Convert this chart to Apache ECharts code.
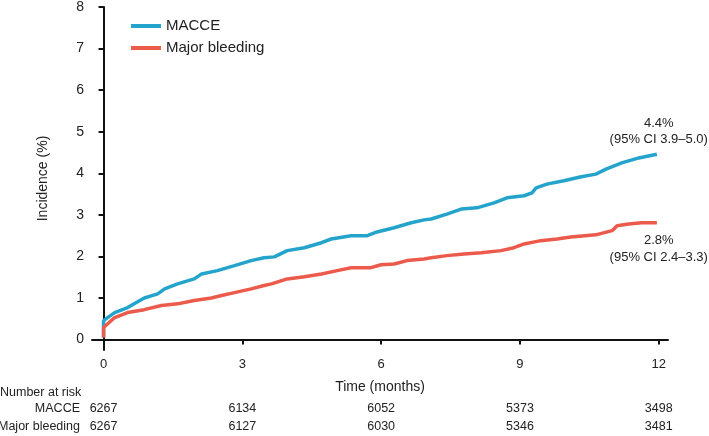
<!DOCTYPE html>
<html>
<head>
<meta charset="utf-8">
<script src="https://cdn.jsdelivr.net/npm/echarts@6/dist/echarts.min.js"></script>
<style>
  html, body {margin: 0; padding: 0; background: #fff;}
  #main {width: 709px; height: 436px;}
</style>
</head>
<body>
<div id="main"></div>
<script>
// cumulative incidence (months, %)
var macceMonths = [0, 0, 0.05, 0.24, 0.52, 0.88, 1.17, 1.32, 1.6, 1.96, 2.12, 2.46, 2.83, 3.19, 3.47, 3.69, 3.97, 4.34, 4.71, 4.92, 5.35, 5.7, 5.91, 6.28, 6.65, 6.93, 7.08, 7.42, 7.73, 8.07, 8.44, 8.72, 9.09, 9.26, 9.35, 9.58, 9.95, 10.3, 10.64, 10.86, 11.2, 11.57, 11.96];
var macceValues = [0.05, 0.45, 0.5, 0.65, 0.77, 1.0, 1.1, 1.22, 1.34, 1.46, 1.58, 1.66, 1.78, 1.9, 1.97, 1.99, 2.14, 2.21, 2.33, 2.42, 2.5, 2.5, 2.59, 2.69, 2.81, 2.88, 2.9, 3.02, 3.14, 3.17, 3.29, 3.41, 3.46, 3.53, 3.65, 3.74, 3.82, 3.91, 3.98, 4.1, 4.25, 4.37, 4.46];
var bleedMonths = [0, 0, 0.24, 0.52, 0.88, 1.25, 1.6, 1.96, 2.33, 2.55, 2.83, 3.19, 3.47, 3.63, 3.97, 4.34, 4.71, 5.05, 5.35, 5.78, 6.0, 6.28, 6.56, 6.93, 7.08, 7.42, 7.79, 8.16, 8.59, 8.87, 9.09, 9.45, 9.8, 10.1, 10.64, 10.99, 11.1, 11.35, 11.63, 11.96];
var bleedValues = [0.05, 0.29, 0.53, 0.65, 0.72, 0.82, 0.86, 0.94, 1.0, 1.06, 1.13, 1.22, 1.3, 1.34, 1.46, 1.51, 1.58, 1.66, 1.73, 1.73, 1.8, 1.82, 1.9, 1.94, 1.97, 2.02, 2.06, 2.09, 2.14, 2.21, 2.3, 2.38, 2.42, 2.47, 2.52, 2.62, 2.74, 2.78, 2.81, 2.81];

var xTicks = [0, 3, 6, 9, 12];
var yTicks = [0, 1, 2, 3, 4, 5, 6, 7, 8];
var riskMacce = [6267, 6134, 6052, 5373, 3498];
var riskBleed = [6267, 6127, 6030, 5346, 3481];
var endMacce = ['4.4%', '(95% CI 3.9\u20135.0)'];
var endBleed = ['2.8%', '(95% CI 2.4\u20133.3)'];

var blue = '#24a4cb';
var red = '#eb5a4b';
var font = 'Liberation Sans, Arial, sans-serif';

function zip(xs, ys) {
  return xs.map(function (x, i) { return [x, ys[i]]; });
}

var chart = echarts.init(document.getElementById('main'));
chart.setOption({
  animation: false,
  textStyle: {fontFamily: font, color: '#222'},
  grid: {left: 92, right: 41, top: 6, bottom: 86},
  legend: {
    orient: 'vertical',
    left: 126,
    top: 12,
    icon: 'rect',
    itemWidth: 30,
    itemHeight: 4,
    itemGap: 4,
    textStyle: {fontSize: 15, lineHeight: 18, color: '#222', fontFamily: font},
    data: ['MACCE', 'Major bleeding']
  },
  xAxis: {
    type: 'value',
    min: -0.25,
    max: 12.2,
    name: 'Time (months)',
    nameLocation: 'middle',
    nameGap: 30,
    nameTextStyle: {fontSize: 14, color: '#222'},
    axisLine: {lineStyle: {color: '#111', width: 2}},
    axisTick: {customValues: xTicks, length: 5, lineStyle: {color: '#111', width: 2}},
    axisLabel: {customValues: xTicks, fontSize: 13, color: '#222', margin: 8},
    splitLine: {show: false}
  },
  yAxis: {
    type: 'value',
    min: -0.25,
    max: 8,
    name: 'Incidence (%)',
    nameLocation: 'middle',
    nameGap: 42,
    nameTextStyle: {fontSize: 14, color: '#222'},
    axisLine: {show: true, lineStyle: {color: '#111', width: 2}},
    axisTick: {show: true, customValues: yTicks, length: 5, lineStyle: {color: '#111', width: 2}},
    axisLabel: {customValues: yTicks, fontSize: 14, color: '#222', margin: 8},
    splitLine: {show: false}
  },
  series: [
    {
      name: 'MACCE',
      type: 'line',
      showSymbol: false,
      color: blue,
      lineStyle: {width: 3.5, color: blue},
      data: zip(macceMonths, macceValues)
    },
    {
      name: 'Major bleeding',
      type: 'line',
      showSymbol: false,
      color: red,
      lineStyle: {width: 3.5, color: red},
      data: zip(bleedMonths, bleedValues)
    }
  ]
});

// end labels and number-at-risk table, placed through the axes
var texts = [];
var lastM = chart.convertToPixel({gridIndex: 0}, [12, macceValues[macceValues.length - 1]]);
var lastB = chart.convertToPixel({gridIndex: 0}, [12, bleedValues[bleedValues.length - 1]]);
function label(txt, x, y, align, size) {
  texts.push({
    type: 'text', x: x, y: y,
    style: {text: txt, fill: '#222', font: size + 'px ' + font, textAlign: align, textVerticalAlign: 'middle'}
  });
}
label(endMacce[0], lastM[0], lastM[1] - 31, 'center', 13);
label(endMacce[1], lastM[0], lastM[1] - 15, 'center', 13);
label(endBleed[0], lastB[0], lastB[1] + 18, 'center', 13);
label(endBleed[1], lastB[0], lastB[1] + 35, 'center', 13);

label('Number at risk', 0, 393, 'left', 12.5);
label('MACCE', 80, 409, 'right', 12.5);
label('Major bleeding', 80, 427, 'right', 12.5);
xTicks.forEach(function (t, i) {
  var px = chart.convertToPixel({xAxisIndex: 0}, t);
  label(String(riskMacce[i]), px, 409, 'center', 12.5);
  label(String(riskBleed[i]), px, 427, 'center', 12.5);
});
chart.setOption({graphic: texts});
</script>
</body>
</html>
